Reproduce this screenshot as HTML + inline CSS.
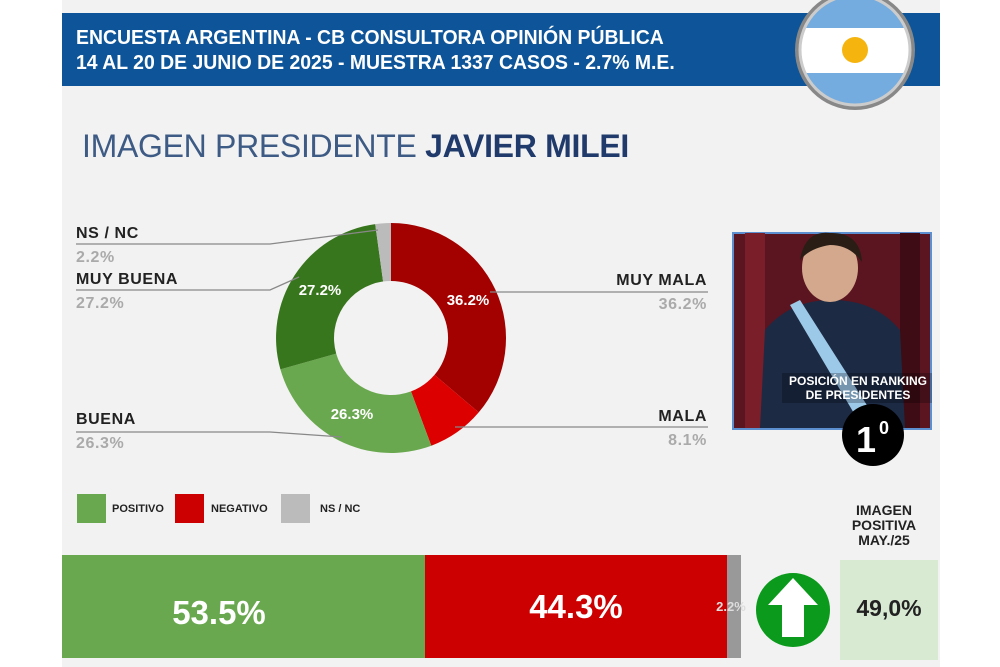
<!DOCTYPE html>
<html><head><meta charset="utf-8"><style>
html,body{margin:0;padding:0;width:1000px;height:667px;overflow:hidden;background:#fff;font-family:"Liberation Sans",sans-serif}
.abs{position:absolute}
</style></head><body>
<div class="abs" style="left:62px;top:0;width:878px;height:667px;background:#f2f2f2"></div>
<div class="abs" style="left:62px;top:13px;width:878px;height:73px;background:#0d5499"></div>
<div class="abs" style="left:76px;top:26px;color:#fff;font-weight:bold;font-size:20px;line-height:25px;white-space:nowrap;transform:scaleX(0.97);transform-origin:left">ENCUESTA ARGENTINA - CB CONSULTORA OPINIÓN PÚBLICA<br>14 AL 20 DE JUNIO DE 2025 - MUESTRA 1337 CASOS - 2.7% M.E.</div>
<svg class="abs" style="left:0;top:0" width="1000" height="667">
<defs><clipPath id="fc"><circle cx="855" cy="50" r="55"/></clipPath></defs>
<circle cx="855" cy="50" r="60" fill="#888"/>
<g clip-path="url(#fc)"><rect x="795" y="-10" width="120" height="130" fill="#74acdf"/><rect x="795" y="28" width="120" height="45" fill="#fff"/><circle cx="855" cy="50" r="13" fill="#f6b40e"/></g>
<circle cx="855" cy="50" r="55" fill="none" stroke="#ccc" stroke-width="3"/>
<path d="M391,223 A115,115 0 0 1 478.7,412.4 L434.5,374.9 A57,57 0 0 0 391,281 Z" fill="#a30000"/>
<path d="M478.7,412.4 A115,115 0 0 1 431.3,445.7 L411,391.4 A57,57 0 0 0 434.5,374.9 Z" fill="#dd0000"/>
<path d="M431.3,445.7 A115,115 0 0 1 280.4,369.4 L336.2,353.6 A57,57 0 0 0 411,391.4 Z" fill="#6aa84f"/>
<path d="M280.4,369.4 A115,115 0 0 1 375.2,224.1 L383.1,281.5 A57,57 0 0 0 336.2,353.6 Z" fill="#38761d"/>
<path d="M375.2,224.1 A115,115 0 0 1 391,223 L391,281 A57,57 0 0 0 383.1,281.5 Z" fill="#bbb"/>
<g stroke="#888" stroke-width="1.3" fill="none">
<polyline points="76,244 270,244 378,230"/>
<polyline points="76,290 270,290 299,277"/>
<polyline points="76,432 270,432 342,437"/>
<polyline points="490,292 708,292"/>
<polyline points="455,427 708,427"/>
</g>
<g font-weight="bold" font-size="15" fill="#fff" text-anchor="middle">
<text x="320" y="295">27.2%</text><text x="468" y="305">36.2%</text><text x="352" y="419">26.3%</text>
</g>
<g font-weight="bold" font-size="16" fill="#222" letter-spacing="0.6">
<text x="76" y="238">NS / NC</text><text x="76" y="284">MUY BUENA</text><text x="76" y="424">BUENA</text>
<text x="707" y="285" text-anchor="end">MUY MALA</text><text x="707" y="421" text-anchor="end">MALA</text>
</g>
<g font-weight="bold" font-size="16" fill="#aaa" letter-spacing="0.6">
<text x="76" y="262">2.2%</text><text x="76" y="308">27.2%</text><text x="76" y="448">26.3%</text>
<text x="707" y="309" text-anchor="end">36.2%</text><text x="707" y="445" text-anchor="end">8.1%</text>
</g>
<rect x="77" y="494" width="29" height="29" fill="#6aa84f"/><rect x="175" y="494" width="29" height="29" fill="#cc0000"/><rect x="281" y="494" width="29" height="29" fill="#bbb"/>
<g font-size="11" font-weight="bold" fill="#222"><text x="112" y="512">POSITIVO</text><text x="211" y="512">NEGATIVO</text><text x="320" y="512">NS / NC</text></g>
<rect x="733" y="233" width="198" height="196" fill="#5a1520" stroke="#5b8fd0" stroke-width="2"/>
<rect x="745" y="233" width="20" height="195" fill="#7a1e2a"/><rect x="900" y="233" width="20" height="195" fill="#3d0c14"/>
<path d="M760,428 L765,330 Q790,300 832,300 Q875,300 900,330 L905,428 Z" fill="#1d2a44"/>
<ellipse cx="830" cy="268" rx="28" ry="34" fill="#d4a88c"/>
<path d="M800,260 Q805,230 830,233 Q860,232 862,262 Q850,245 830,245 Q810,248 800,260Z" fill="#2a1d15"/>
<path d="M790,305 L800,300 L870,410 L855,415 Z" fill="#9cc9e8"/>
<rect x="782" y="373" width="150" height="30" fill="rgba(0,0,0,0.25)"/>
<g font-size="12" font-weight="bold" fill="#fff" text-anchor="middle"><text x="858" y="385">POSICIÓN EN RANKING</text><text x="858" y="399">DE PRESIDENTES</text></g>
<circle cx="873" cy="435" r="31" fill="#000"/>
<text x="866" y="452" font-size="36" font-weight="bold" fill="#fff" text-anchor="middle">1</text><text x="884" y="434" font-size="18" font-weight="bold" fill="#fff" text-anchor="middle">0</text>
<g font-size="14" font-weight="bold" fill="#222" text-anchor="middle"><text x="884" y="515">IMAGEN</text><text x="884" y="530">POSITIVA</text><text x="884" y="545">MAY./25</text></g>
<rect x="62" y="555" width="363" height="103" fill="#6aa84f"/>
<rect x="425" y="555" width="302" height="103" fill="#cc0000"/>
<rect x="727" y="555" width="14" height="103" fill="#999"/>
<text x="219" y="624" font-size="33" font-weight="bold" fill="#fff" text-anchor="middle">53.5%</text>
<text x="576" y="618" font-size="33" font-weight="bold" fill="#fff" text-anchor="middle">44.3%</text>
<text x="731" y="611" font-size="13" font-weight="bold" fill="#ddd" text-anchor="middle">2.2%</text>
<circle cx="793" cy="610" r="37" fill="#0b9a1c"/>
<path d="M793,578 L818,605 L804,605 L804,637 L782,637 L782,605 L768,605 Z" fill="#fff"/>
<rect x="840" y="560" width="98" height="100" fill="#d9ead3"/>
<text x="889" y="616" font-size="23" font-weight="bold" fill="#222" text-anchor="middle">49,0%</text>
</svg>
<div class="abs" style="left:82px;top:128px;font-size:32px;color:#3d5b84;letter-spacing:-0.3px;white-space:nowrap">IMAGEN PRESIDENTE <b style="color:#1f3a6b">JAVIER MILEI</b></div>
</body></html>
